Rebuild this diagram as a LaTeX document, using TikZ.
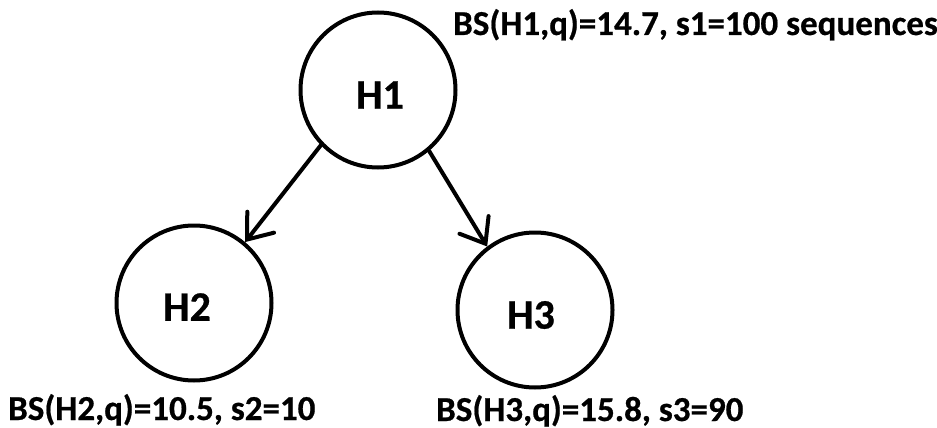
\documentclass[tikz,border=0pt]{standalone}
\usepackage{fontspec}
\setmainfont{Carlito}
\newfontfamily\heavyfont[BoldFont={* Bold},BoldFeatures={FakeBold=0.6}]{Carlito}
\usetikzlibrary{arrows.meta}
\tikzset{
  hyp/.style={circle, draw, line width=4pt, minimum size=155pt, inner sep=0pt},
  hname/.style={font=\heavyfont\bfseries\fontsize{42}{42}\selectfont, inner sep=0pt},
  score/.style={font=\heavyfont\bfseries\fontsize{35}{35}\selectfont, inner sep=0pt, anchor=base west},
  link/.style={line width=4pt, line cap=round,
    -{Straight Barb[length=22pt,width=34pt,line width=4pt,line cap=round]}}
}
\begin{document}
\begin{tikzpicture}[x=1pt, y=-1pt]
  \useasboundingbox (0,0) rectangle (937,428);
  % hypothesis circles
  \node[hyp] (h1) at (378,90) {};
  \node[hyp] (h2) at (194,303) {};
  \node[hyp] (h3) at (535,310) {};
  % names inside the circles
  \node[hname] (n1) at (380,95) {H1};
  \node[hname] (n2) at (187,307) {H2};
  \node[hname] (n3) at (531,315) {H3};
  % split edges
  \draw[link] (h1.224) -- (h2.50);
  \draw[link] (h1.310) -- (h3.127);
  % scores
  \node[score] (s1) at (453,35) {BS(H1,q)=14.7, s1=100 sequences};
  \node[score] (s2) at (8,420) {BS(H2,q)=10.5, s2=10};
  \node[score] (s3) at (436,421) {BS(H3,q)=15.8, s3=90};
\end{tikzpicture}
\end{document}
